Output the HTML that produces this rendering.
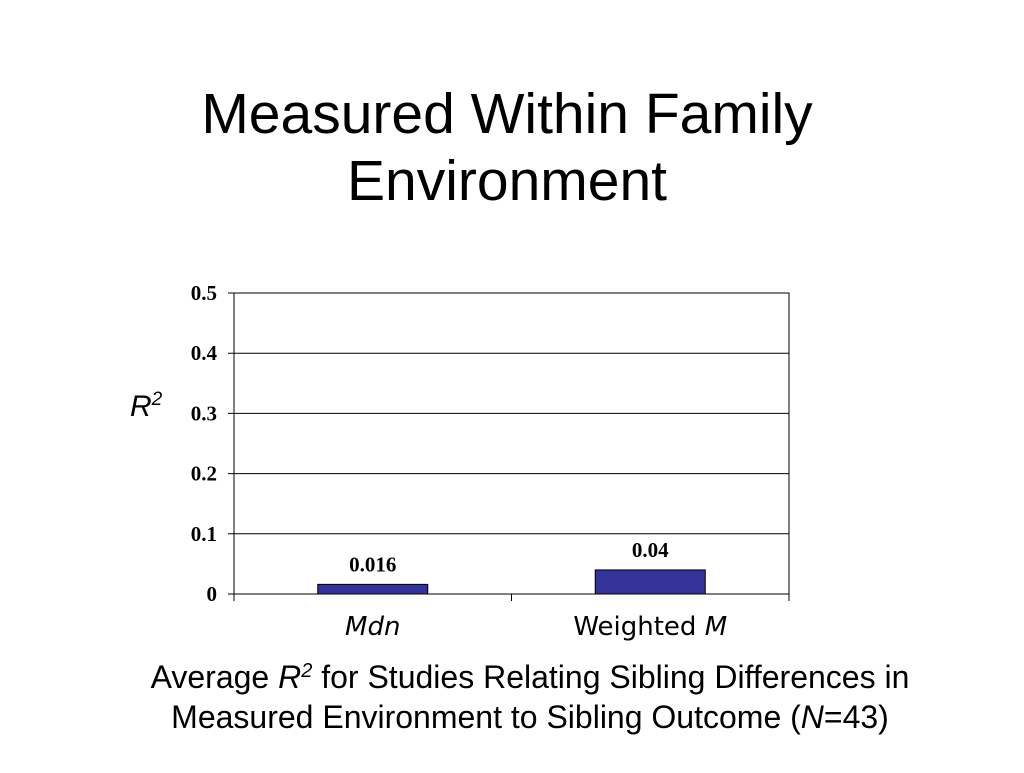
<!DOCTYPE html>
<html><head><meta charset="utf-8"><style>
body{margin:0;background:#fff;width:1024px;height:768px;overflow:hidden;font-family:"Liberation Sans",sans-serif}
</style></head><body>
<svg width="1024" height="768" xmlns="http://www.w3.org/2000/svg">
<text x="507" y="133" font-size="57" text-anchor="middle" font-family="Liberation Sans">Measured Within Family</text>
<text x="507" y="200" font-size="57" text-anchor="middle" font-family="Liberation Sans">Environment</text>
<g id="chart"></g>
<text x="130" y="416" font-size="30" font-style="italic">R<tspan dy="-11" font-size="19">2</tspan></text>
<text x="530" y="688" font-size="32" text-anchor="middle">Average <tspan font-style="italic">R</tspan><tspan dy="-11" font-size="20" font-style="italic">2</tspan><tspan dy="11"> for Studies Relating Sibling Differences in</tspan></text>
<text x="530" y="728" font-size="32" text-anchor="middle">Measured Environment to Sibling Outcome (<tspan font-style="italic">N</tspan>=43)</text>
</svg>
<script>
const categories=["Mdn","Weighted M"];
const values=[0.016,0.04];
const valueLabels=["0.016","0.04"];
const yTicks=[0,0.1,0.2,0.3,0.4,0.5];
const yTickLabels=["0","0.1","0.2","0.3","0.4","0.5"];
const NS="http://www.w3.org/2000/svg";
const g=document.getElementById('chart');
const L=234,R=789,T=293,B=594,yMax=0.5;
const y=v=>B-(v/yMax)*(B-T);
const bw=(R-L)/categories.length;
const xc=i=>L+bw*(i+0.5);
function mk(t,a){const e=document.createElementNS(NS,t);for(const k in a)e.setAttribute(k,a[k]);g.appendChild(e);return e;}
let e=mk('rect',{x:L,y:T,width:R-L,height:B-T,fill:'none',stroke:'#000','stroke-width':1});


yTicks.forEach((v,i)=>{
 const l=mk('line',{x1:L-6,x2:R,y1:y(v),y2:y(v),stroke:'#000','stroke-width':1});
 
 
 const t=mk('text',{x:L-17,y:y(v)+7,'text-anchor':'end','font-size':21,'font-weight':'bold','font-family':'Liberation Serif'});
 t.textContent=yTickLabels[i];
 
 
});
for(let i=0;i<=categories.length;i++){
 const l=mk('line',{x1:L+bw*i,x2:L+bw*i,y1:B,y2:B+7,stroke:'#000'});
 
 
}
categories.forEach((c,i)=>{
 const w=110;
 const r=mk('rect',{x:xc(i)-w/2,y:y(values[i]),width:w,height:B-y(values[i]),fill:'#333399',stroke:'#000','stroke-width':1});
 
 
 const vl=mk('text',{x:xc(i),y:y(values[i])-13,'text-anchor':'middle','font-size':21,'font-weight':'bold','font-family':'Liberation Serif'});
 vl.textContent=valueLabels[i];
 
 
 const cl=mk('text',{x:xc(i),y:635,'text-anchor':'middle','font-size':26,'font-family':'DejaVu Sans'});
 const parts=c.split(' ');
 if(parts.length>1){cl.innerHTML=parts[0]+' <tspan font-style="italic">'+parts[1]+'</tspan>';}
 else{cl.setAttribute('font-style','italic');cl.textContent=c;}
 
 
});
</script>
</body></html>
